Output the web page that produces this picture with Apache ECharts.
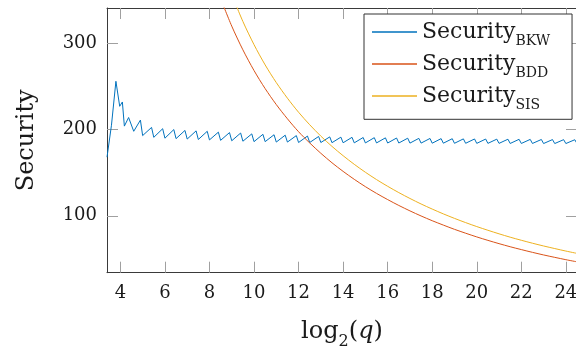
<!DOCTYPE html>
<html><head><meta charset="utf-8">
<script src="https://cdn.jsdelivr.net/npm/echarts@6/dist/echarts.min.js"></script>
<style>html,body{margin:0;padding:0;background:#fff}#c{width:576px;height:349px}</style>
</head><body><div id="c"></div>
<script>
const xTicks = [4, 6, 8, 10, 12, 14, 16, 18, 20, 22, 24];
const yTicks = [100, 200, 300];
const seriesNames = ['BKW', 'BDD', 'SIS'];

const bkwX = [3.4, 3.6, 3.8, 3.97, 4.09, 4.18, 4.37, 4.6, 4.9, 5.0,
  5.4, 5.5, 5.9, 6.0, 6.4, 6.5, 6.9, 7.0, 7.4, 7.5, 7.9, 8.0, 8.4, 8.5, 8.9, 9.0,
  9.4, 9.5, 9.9, 10.0, 10.4, 10.5, 10.9, 11.0, 11.4, 11.5, 11.9, 12.0, 12.4, 12.5,
  12.9, 13.0, 13.4, 13.5, 13.9, 14.0, 14.4, 14.5, 14.9, 15.0, 15.4, 15.5, 15.9, 16.0,
  16.4, 16.5, 16.9, 17.0, 17.4, 17.5, 17.9, 18.0, 18.4, 18.5, 18.9, 19.0, 19.4, 19.5,
  19.9, 20.0, 20.4, 20.5, 20.9, 21.0, 21.4, 21.5, 21.9, 22.0, 22.4, 22.5, 22.9, 23.0,
  23.4, 23.5, 23.9, 24.0, 24.4, 24.5];
const bkwY = [168, 205, 256, 227, 232, 204, 214, 198, 211, 193,
  202.5, 191, 201, 190, 200, 189.5, 199, 189, 198.5, 188.5, 198, 188, 197, 187.5, 196.5, 187,
  196, 186.5, 195, 186, 194.5, 186, 194, 185.5, 193.5, 185.5, 193, 185, 192.5, 185,
  192, 185, 191.5, 184.8, 191.2, 184.7, 191, 184.6, 190.8, 184.5, 190.6, 184.5, 190.4, 184.4,
  190.2, 184.4, 190, 184.3, 189.8, 184.3, 189.7, 184.2, 189.5, 184.2, 189.4, 184.1, 189.2, 184.1,
  189.1, 184, 189, 184, 188.9, 184, 188.8, 183.9, 188.7, 183.9, 188.6, 183.9, 188.5, 183.8,
  188.4, 183.8, 188.3, 183.8, 188.2, 183.8];

const bddX = [8.5, 9, 9.5, 10, 10.5, 11, 11.5, 12, 12.5, 13, 13.5, 14, 14.5, 15, 15.5, 16, 16.5,
  17, 17.5, 18, 18.5, 19, 19.5, 20, 20.5, 21, 21.5, 22, 22.5, 23, 23.5, 24, 24.5];
const bddY = [352, 320, 292.5, 268.5, 247.5, 229, 212.5, 197.5, 184.5, 172.5, 161.5, 151.5, 142.3,
  133.8, 126, 118.8, 112, 105.7, 99.8, 94.3, 89.2, 84.3, 79.8, 75.5, 71.5, 67.7, 64.1, 60.8, 57.6,
  54.6, 51.8, 49.1, 46.6];

const sisX = [9, 9.5, 10, 10.5, 11, 11.5, 12, 12.5, 13, 13.5, 14, 14.5, 15, 15.5, 16, 16.5,
  17, 17.5, 18, 18.5, 19, 19.5, 20, 20.5, 21, 21.5, 22, 22.5, 23, 23.5, 24, 24.5];
const sisY = [356.6, 325.4, 298.5, 275, 254.5, 236.4, 220.1, 205.6, 192.4, 180.5, 169.7, 159.7,
  150.5, 142, 134.2, 126.9, 120.1, 113.7, 107.8, 102.2, 97, 92.1, 87.5, 83.2, 79.1, 75.2, 71.6,
  68.2, 65, 62, 59.1, 56.4];

const zip = (xs, ys) => xs.map((x, i) => [x, ys[i]]);
const serif = 'DejaVu Serif';
const txt = '#1a1a1a';

const chart = echarts.init(document.getElementById('c'), null, {renderer: 'canvas'});

const xBase = {
  type: 'value', min: 3.4, max: 24.5,
  axisLine: {show: true, onZero: false, lineStyle: {color: '#3a3a3a', width: 1}},
  axisTick: {show: true, inside: true, length: 11, customValues: xTicks, lineStyle: {color: '#a0a0a0', width: 1}},
  splitLine: {show: false}
};
const yBase = {
  type: 'value', min: 34, max: 341,
  axisLine: {show: true, onZero: false, lineStyle: {color: '#3a3a3a', width: 1}},
  axisTick: {show: true, inside: true, length: 11, customValues: yTicks, lineStyle: {color: '#a0a0a0', width: 1}},
  splitLine: {show: false}
};

const option = {
  animation: false,
  backgroundColor: '#fff',
  grid: {left: 107, top: 8, width: 470, height: 264.7, containLabel: false, outerBoundsMode: 'none'},
  legend: {
    orient: 'vertical', left: 364, top: 14,
    padding: [7, 22, 7, 8], itemGap: 4.7,
    itemWidth: 45, itemHeight: 1.5, icon: 'rect',
    borderColor: '#333', borderWidth: 1, backgroundColor: '#fff',
    data: seriesNames,
    formatter: n => '{a|Security}{b|' + n + '}',
    textStyle: {
      color: txt, fontFamily: serif,
      rich: {
        a: {fontFamily: serif, fontSize: 22, lineHeight: 22, verticalAlign: 'top', color: txt},
        b: {fontFamily: serif, fontSize: 14, lineHeight: 14, verticalAlign: 'top', padding: [13.3, 0, 0, 0], color: txt}
      }
    }
  },
  xAxis: [
    Object.assign({}, xBase, {
      position: 'bottom',
      axisLabel: {show: true, customValues: xTicks, fontFamily: serif, fontSize: 18, color: txt, margin: 12},
      name: '{a|log}{s|2}{a|(}{i|q}{a|)}',
      nameLocation: 'middle', nameGap: 47,
      nameTextStyle: {
        color: txt, fontFamily: serif, fontSize: 24,
        rich: {
          a: {fontFamily: serif, fontSize: 24, lineHeight: 26, verticalAlign: 'top', color: txt},
          i: {fontFamily: serif, fontStyle: 'italic', fontSize: 24, lineHeight: 26, verticalAlign: 'top', color: txt},
          s: {fontFamily: serif, fontSize: 16, lineHeight: 16, verticalAlign: 'top', padding: [14.5, 0, 0, 0], color: txt}
        }
      }
    }),
    Object.assign({}, xBase, {position: 'top', axisLabel: {show: false}})
  ],
  yAxis: [
    Object.assign({}, yBase, {
      position: 'left',
      axisLabel: {show: true, customValues: yTicks, fontFamily: serif, fontSize: 18, color: txt, margin: 10},
      name: 'Security', nameLocation: 'middle', nameGap: 68,
      nameTextStyle: {color: txt, fontFamily: serif, fontSize: 24}
    }),
    Object.assign({}, yBase, {position: 'right', axisLabel: {show: false}})
  ],
  series: [
    {name: 'BKW', type: 'line', data: zip(bkwX, bkwY), symbol: 'none', clip: true,
      color: '#0072BD', lineStyle: {color: '#0072BD', width: 1}},
    {name: 'BDD', type: 'line', data: zip(bddX, bddY), symbol: 'none', clip: true, smooth: 0.3,
      color: '#D95319', lineStyle: {color: '#D95319', width: 1}},
    {name: 'SIS', type: 'line', data: zip(sisX, sisY), symbol: 'none', clip: true, smooth: 0.3,
      color: '#EDB120', lineStyle: {color: '#EDB120', width: 1}}
  ]
};
chart.setOption(option);
</script>
</body></html>
